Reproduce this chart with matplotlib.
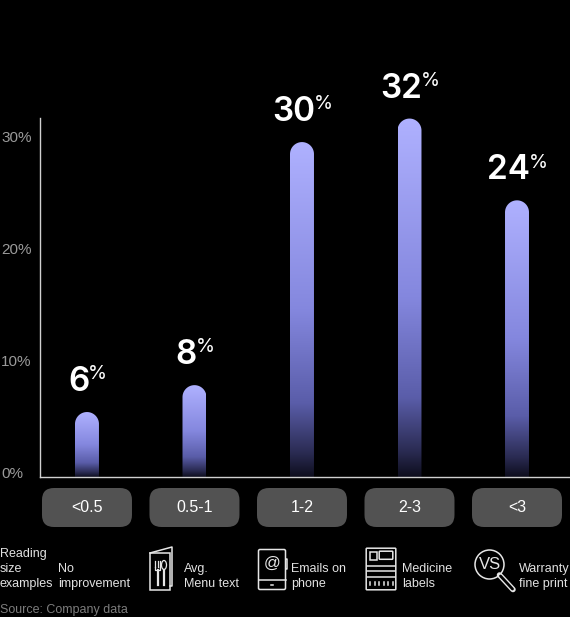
import numpy as np
import matplotlib
matplotlib.use('Agg')
import matplotlib.pyplot as plt
import matplotlib.transforms as mtransforms
from matplotlib.colors import LinearSegmentedColormap
from matplotlib.patches import FancyBboxPatch, PathPatch, Rectangle, Circle, Ellipse
from matplotlib.path import Path

plt.rcParams['font.family'] = ['Liberation Sans', 'DejaVu Sans']

# data
ranges = ['<0.5', '0.5-1', '1-2', '2-3', '<3']
heights = [5.8, 8.2, 29.9, 32.0, 24.7]
value_labels = ['6', '8', '30', '32', '24']
examples = ['No\nimprovement', 'Avg.\nMenu text', 'Emails on\nphone',
            'Medicine\nlabels', 'Warranty\nfine print']
yticks = [0, 10, 20, 30]
ytick_labels = ['0%', '10%', '20%', '30%']

W, H = 570, 617
fig = plt.figure(figsize=(W / 100, H / 100), dpi=100, facecolor='black')
ax = fig.add_axes([40 / W, 140 / H, 530 / W, 359 / H])
ax.set_facecolor('none')
ax.set_xlim(-0.437, 4.493)
ax.set_ylim(0, 32.05)
ax.set_xticks([])
ax.set_yticks([])
for s in ['top', 'right']:
    ax.spines[s].set_visible(False)
for s in ['left', 'bottom']:
    ax.spines[s].set_color('#d0d0d0')
    ax.spines[s].set_linewidth(1)

cmap = LinearSegmentedColormap.from_list('bar', [
    (0.0, '#0e0e1e'), (0.07, '#2a2b52'), (0.22, '#5a5da9'),
    (0.5, '#8487de'), (1.0, '#afb1ff')])
grad = np.linspace(0, 1, 256).reshape(-1, 1)

bw = 0.223
p0 = ax.transData.transform((0, 0))
px_x = ax.transData.transform((1, 0))[0] - p0[0]
px_y = ax.transData.transform((0, 1))[1] - p0[1]
rx = bw / 2
ry = rx * px_x / px_y
ang = np.linspace(np.pi, 0, 40)

for i, h in enumerate(heights):
    xs = [i - rx] + list(i + rx * np.cos(ang)) + [i + rx, i - rx]
    ys = [0] + list(h - ry + ry * np.sin(ang)) + [0, 0]
    path = Path(np.column_stack([xs, ys]))
    patch = PathPatch(path, facecolor='none', edgecolor='none', transform=ax.transData)
    ax.add_patch(patch)
    im = ax.imshow(grad, extent=[i - rx, i + rx, 0, h], origin='lower', cmap=cmap,
                   aspect='auto', interpolation='bilinear')
    im.set_clip_path(patch)
ax.set_xlim(-0.437, 4.493)
ax.set_ylim(0, 32.05)

# y tick labels, left aligned at figure edge
trans = mtransforms.blended_transform_factory(fig.transFigure, ax.transData)
trans = mtransforms.offset_copy(trans, fig=fig, y=3, units='dots')
for v, t in zip(yticks, ytick_labels):
    ax.text(1 / W, v, t, transform=trans, ha='left', va='center',
            color='#9a9a9a', fontsize=11, clip_on=False)

# overlay in pixel coordinates
ov = fig.add_axes([0, 0, 1, 1], zorder=3)
ov.set_xlim(0, W)
ov.set_ylim(H, 0)
ov.axis('off')
ov.patch.set_alpha(0)

def to_px(x, y):
    d = ax.transData.transform((x, y))
    return d[0], H - d[1]

for i, (h, lab) in enumerate(zip(heights, value_labels)):
    cx, ty = to_px(i, h)
    num = ov.text(cx - 8, ty - 21, lab, ha='center', va='baseline', color='white',
                  fontsize=24, fontweight='semibold', family=['Inter', 'DejaVu Sans'])
    ov.annotate('%', xy=(1, 1), xycoords=num, xytext=(-1, 0.5), textcoords='offset points',
                ha='left', va='top', color='white', fontsize=14,
                family=['Inter', 'DejaVu Sans'])
    # pill
    r = 12
    ov.add_patch(FancyBboxPatch((cx - 45 + r, 488 + r), 90 - 2 * r, 39 - 2 * r,
                                boxstyle=f'round,pad={r}', facecolor='#525252',
                                edgecolor='none'))
    ov.text(cx, 508, ranges[i], ha='center', va='center', color='white', fontsize=11.5)

txt = '#e2e2e2'
ov.text(0, 590, 'Reading\nsize\nexamples', ha='left', va='bottom', color=txt,
        fontsize=9, linespacing=1.33)
text_dx = [-29, -10.5, -11, -7.5, 2]
for i, e in enumerate(examples):
    cx, _ = to_px(i, 0)
    ov.text(cx + text_dx[i], 590, e, ha='left', va='bottom', color=txt,
            fontsize=9, linespacing=1.33)
ov.text(0, 616, 'Source: Company data', ha='left', va='bottom', color='#7c7c7c', fontsize=9)

lc = '#e6e6e6'
lw = 1.1
# menu icon
ov.add_patch(Rectangle((150, 553), 20, 37, fill=False, ec=lc, lw=lw))
ov.plot([150, 172, 172, 170], [553, 547, 586, 586], color=lc, lw=lw)
for fx in [155, 157.5, 160]:
    ov.plot([fx, fx], [561, 567], color=lc, lw=0.9)
ov.plot([155, 155, 160, 160], [567, 570, 570, 567], color=lc, lw=0.9)
ov.plot([157.5, 157.5], [570, 585], color=lc, lw=1.6)
ov.add_patch(Ellipse((164, 565), 5, 9, fill=False, ec=lc, lw=0.9))
ov.plot([164, 164], [569.5, 585], color=lc, lw=1.6)
# phone icon
ov.add_patch(FancyBboxPatch((260, 551), 24, 37, boxstyle='round,pad=1.5',
                            fill=False, ec=lc, lw=lw))
ov.plot([285.5, 287, 287, 285.5], [559, 559, 569, 569], color=lc, lw=lw)
ov.plot([258.5, 285.5], [580, 580], color=lc, lw=lw)
ov.plot([271, 273], [585, 585], color=lc, lw=lw)
ov.text(272, 563, '@', ha='center', va='center', color=lc, fontsize=12)
# medicine icon
ov.add_patch(FancyBboxPatch((367, 549), 28, 40, boxstyle='round,pad=0.8',
                            fill=False, ec=lc, lw=lw))
ov.add_patch(Rectangle((369.5, 551.5), 7, 8, fill=False, ec=lc, lw=lw))
ov.add_patch(FancyBboxPatch((380, 552), 12, 6.5, boxstyle='round,pad=0.8',
                            fill=False, ec=lc, lw=lw))
for yy in [566, 571, 577]:
    ov.plot([367, 395], [yy, yy], color=lc, lw=lw)
for tx in np.arange(370, 394, 4.5):
    ov.plot([tx, tx], [582, 585], color=lc, lw=lw)
# magnifier icon
ov.add_patch(Circle((489.5, 564.5), 14.5, fill=False, ec=lc, lw=lw))
ov.plot([499.5, 513], [575, 589.5], color=lc, lw=4, solid_capstyle='round')
ov.plot([500.5, 512.5], [576, 589], color='black', lw=2, solid_capstyle='round')
ov.text(489.5, 564.5, 'VS', ha='center', va='center', color=lc, fontsize=12)

fig.savefig('out.png', dpi=100, facecolor='black')
